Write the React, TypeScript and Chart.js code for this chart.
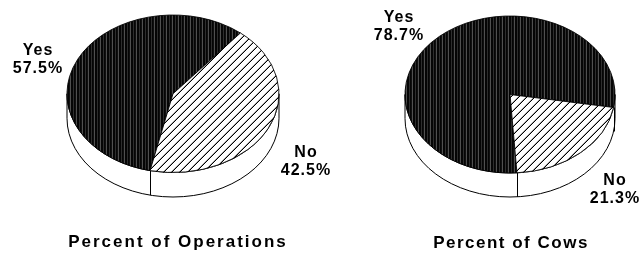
import { useEffect, useRef } from 'react';
import { Chart, PieController, ArcElement } from 'chart.js';

Chart.register(PieController, ArcElement);

// ---- data ----
const categories = ['Yes', 'No'];
const operationsValues = [57.5, 42.5];
const cowsValues = [78.7, 21.3];
const chartTitles = ['Percent of Operations', 'Percent of Cows'];

// ---- layout (not data) ----
const W = 639;
const H = 254;
const FONT = '"Liberation Sans", Arial, Helvetica, sans-serif';

type PieSpec = {
  values: number[];
  title: string;
  rotation: number;
  cx: number;
  cy: number;
  rx: number;
  ry: number;
  depth: number;
  labelPos: [number, number][];
  titlePos: [number, number];
  titleSpacing: string;
};

const pies: PieSpec[] = [
  {
    values: operationsValues,
    title: chartTitles[0],
    rotation: 192.5,
    cx: 173,
    cy: 93.75,
    rx: 106,
    ry: 78.75,
    depth: 24.5,
    labelPos: [
      [38, 55],
      [306, 157],
    ],
    titlePos: [178, 247],
    titleSpacing: '2px',
  },
  {
    values: cowsValues,
    title: chartTitles[1],
    rotation: 176.2,
    cx: 510,
    cy: 94.5,
    rx: 105,
    ry: 78.5,
    depth: 24,
    labelPos: [
      [399, 22],
      [615, 185],
    ],
    titlePos: [511, 248],
    titleSpacing: '1.5px',
  },
];

function makeStripe(ctx: CanvasRenderingContext2D): CanvasPattern {
  const cols = ['#050505', '#2e2e2e', '#050505', '#101010', '#505050', '#050505'];
  const c = document.createElement('canvas');
  c.width = cols.length;
  c.height = 1;
  const g = c.getContext('2d')!;
  cols.forEach((col, i) => {
    g.fillStyle = col;
    g.fillRect(i, 0, 1, 1);
  });
  return ctx.createPattern(c, 'repeat')!;
}

function makeHatch(ctx: CanvasRenderingContext2D): CanvasPattern {
  const n = 8;
  const c = document.createElement('canvas');
  c.width = n;
  c.height = n;
  const g = c.getContext('2d')!;
  g.fillStyle = '#ffffff';
  g.fillRect(0, 0, n, n);
  g.fillStyle = '#000000';
  for (let x = 0; x < n; x++) {
    g.fillRect(x, n - 1 - x, 1, 1);
  }
  g.fillStyle = 'rgba(0,0,0,0.35)';
  for (let x = 0; x < n; x++) {
    g.fillRect(x, (2 * n - 2 - x) % n, 1, 1);
  }
  return ctx.createPattern(c, 'repeat')!;
}

function Pie3D({ spec }: { spec: PieSpec }) {
  const ref = useRef<HTMLCanvasElement | null>(null);

  useEffect(() => {
    const canvas = ref.current!;
    const ctx0 = canvas.getContext('2d')!;
    const patterns = [makeStripe(ctx0), makeHatch(ctx0)];

    const plugin = {
      id: 'pie3d',
      beforeDatasetsDraw(chart: any) {
        const ctx: CanvasRenderingContext2D = chart.ctx;
        const meta = chart.getDatasetMeta(0);
        const arcs: any[] = meta.data;
        const { cx, cy, ry, depth } = spec;
        const rx = arcs[0].outerRadius;
        const k = ry / rx;
        const ax = arcs[0].x;
        const ay = arcs[0].y;
        // side wall (front half)
        ctx.save();
        ctx.fillStyle = '#ffffff';
        ctx.strokeStyle = '#000000';
        ctx.lineWidth = 1;
        ctx.beginPath();
        ctx.ellipse(cx, cy, rx, ry, 0, 0, Math.PI, false);
        ctx.lineTo(cx - rx, cy + depth);
        ctx.ellipse(cx, cy + depth, rx, ry, 0, Math.PI, 0, true);
        ctx.closePath();
        ctx.fill();
        ctx.stroke();
        // slice boundaries on the wall
        ctx.beginPath();
        arcs.forEach((a) => {
          const t = ((a.startAngle % (2 * Math.PI)) + 2 * Math.PI) % (2 * Math.PI);
          if (Math.sin(t) > 0.02) {
            const x = Math.round(cx + rx * Math.cos(t)) + 0.5;
            const y = cy + ry * Math.sin(t);
            ctx.moveTo(x, y);
            ctx.lineTo(x, y + depth);
          }
        });
        ctx.stroke();
        ctx.restore();
        // keep pattern pixels aligned to the device grid after squashing
        const inv = new DOMMatrix().translate(ax, ay).scale(1, 1 / k).translate(-cx, -cy);
        patterns.forEach((p) => p.setTransform(inv));
        // squash the pie into an ellipse
        ctx.save();
        ctx.translate(cx, cy);
        ctx.scale(1, k);
        ctx.translate(-ax, -ay);
      },
      afterDatasetsDraw(chart: any) {
        const ctx: CanvasRenderingContext2D = chart.ctx;
        ctx.restore();
        const labels: string[] = chart.data.labels;
        const data: number[] = chart.data.datasets[0].data;
        ctx.save();
        ctx.fillStyle = '#000000';
        ctx.textAlign = 'center';
        ctx.textBaseline = 'alphabetic';
        ctx.font = `bold 16px ${FONT}`;
        (ctx as any).letterSpacing = '1px';
        labels.forEach((lab, i) => {
          const [x, y] = spec.labelPos[i];
          ctx.fillText(lab, x, y);
          ctx.fillText(`${data[i].toFixed(1)}%`, x, y + 18);
        });
        ctx.font = `bold 17px ${FONT}`;
        (ctx as any).letterSpacing = spec.titleSpacing;
        ctx.fillText(spec.title, spec.titlePos[0], spec.titlePos[1]);
        ctx.restore();
      },
    };

    const chart = new Chart(canvas, {
      type: 'pie',
      data: {
        labels: categories,
        datasets: [
          {
            data: spec.values,
            backgroundColor: patterns,
            borderColor: '#000000',
            borderWidth: 1,
            radius: spec.rx,
            rotation: spec.rotation,
            clip: false,
          } as any,
        ],
      },
      options: {
        animation: false,
        responsive: false,
        devicePixelRatio: 1,
        events: [],
        plugins: {
          legend: { display: false },
          tooltip: { enabled: false },
          title: { display: false },
        },
      } as any,
      plugins: [plugin as any],
    });
    return () => chart.destroy();
  }, [spec]);

  return (
    <canvas
      ref={ref}
      width={W}
      height={H}
      style={{ position: 'absolute', left: 0, top: 0, width: W, height: H }}
    />
  );
}

export default function App() {
  return (
    <div
      style={{
        position: 'fixed',
        left: 0,
        top: 0,
        width: W,
        height: H,
        background: '#ffffff',
        overflow: 'hidden',
      }}
    >
      {pies.map((p, i) => (
        <Pie3D key={i} spec={p} />
      ))}
    </div>
  );
}
